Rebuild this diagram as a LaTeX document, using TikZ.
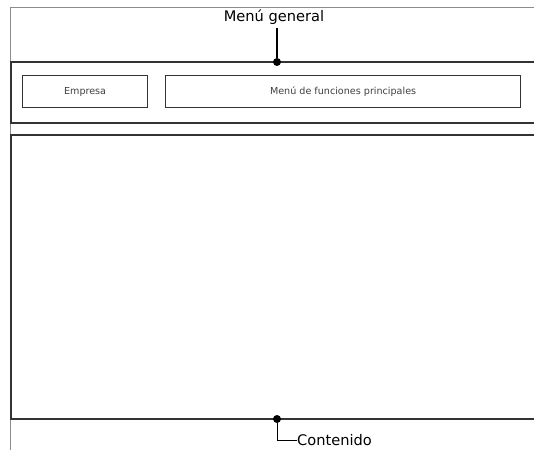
\documentclass[tikz,border=0pt]{standalone}
\usepackage{fontspec}
\setmainfont{DejaVu Sans}
\begin{document}
\begin{tikzpicture}[x=1pt,y=-1pt,
  frame/.style={draw=black!45,line width=0.8pt},
  band/.style={draw=black!80,line width=1.4pt},
  boxed/.style={draw=black!80,line width=1.2pt,fill=white,inner sep=0pt,anchor=north west},
  small/.style={font=\fontsize{9.6}{11}\selectfont,text=black!75},
  lbl/.style={font=\fontsize{14.6}{17}\selectfont,inner sep=0pt},
  dot/.style={circle,fill=black,inner sep=0pt,minimum size=8pt},
  lead/.style={draw=black,line width=1.3pt}]
\useasboundingbox (0,0) rectangle (534,450);
\fill[white] (0,0) rectangle (534,450);
% outer page frame
\draw[frame] (10.5,450) -- (10.5,7) -- (534,7);
% header band
\draw[band] (534,62) -- (11,62) -- (11,123) -- (534,123);
% content area
\draw[band] (534,135) -- (11,135) -- (11,419) -- (534,419);
% menu boxes
\node[boxed,minimum width=125pt,minimum height=32pt,small] (emp) at (22,75) {Empresa};
\node[boxed,minimum width=355pt,minimum height=32pt,small] (menu) at (165,75) {Menú de funciones principales};
% labels with leaders
\node[lbl] (mg) at (274,17) {Menú general};
\node[dot] (d1) at (277,62) {};
\draw[lead] (277,28) -- (d1);
\node[dot] (d2) at (277,419) {};
\node[lbl,anchor=west] (cont) at (297,440) {Contenido};
\draw[draw=black,line width=1pt] (d2) |- (cont.west);
\end{tikzpicture}
\end{document}
